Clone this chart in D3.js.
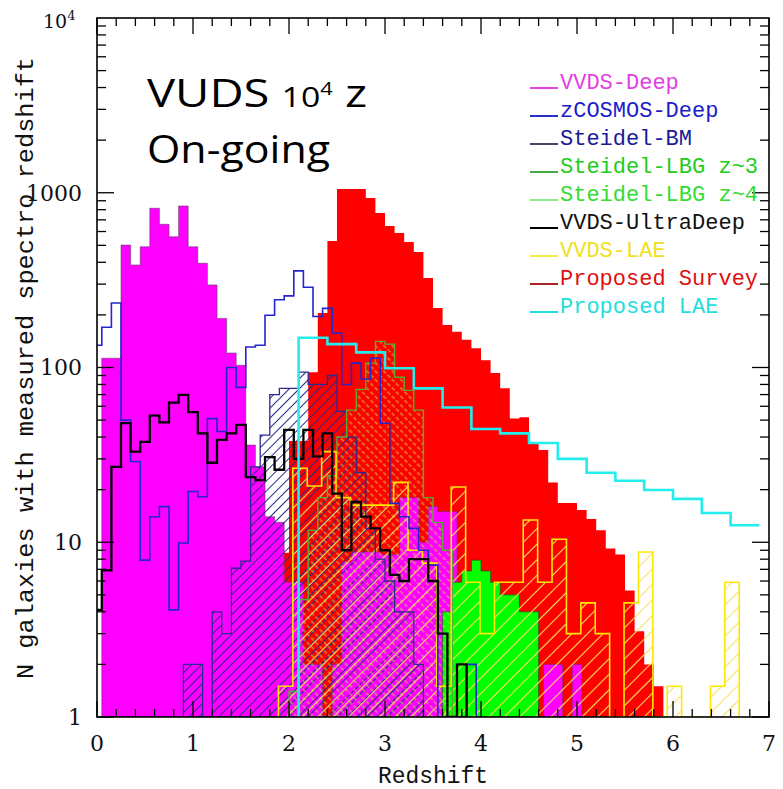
<!DOCTYPE html>
<html><head><meta charset="utf-8">
<script src="https://cdn.jsdelivr.net/npm/d3@7"></script>
<style>body{margin:0;background:#fff;}svg{display:block}</style>
</head><body><svg id="c" width="783" height="789"></svg>
<script>
// ---------- DATA (counts per redshift bin) ----------
const proposedSurveyStart = 1.9, proposedSurveyBin = 0.1;
const proposedSurvey = [8.7,38,38,94,205,530,1050,1050,1050,933,766,645,589,523,458,325,219,175,160,144,129,110,93,76,51,52,36.5,33.7,22,16.8,16.8,15.3,13.6,11.7,9.2,8.5,5.3,3.1,2.0,1.5];

const vvdsDeepStart = 0.05, vvdsDeepBin = 0.1;
const vvdsDeep = [113,113,502,386,491,815,660,560,840,491,395,297,191,121,103,36,27,14,13,5.9,5.9,2,2,0,2,7.7,8.8,8.8,8.8,8.5,8.5,18,18,10,16,15,15,0,0,0,0,0,0,0,0,0,2,2,0,2];

const lbgZ4Start = 3.6, lbgZ4Bin = 0.1;
const lbgZ4 = [4,5.9,6.85,7.9,6.85,5.9,5.0,5.0,4.0,4.0];

const steidelBMStart = 0.9, steidelBMBin = 0.1;
const steidelBM = [2,2,0,4,3,7.1,7.8,27,41,70,76,76,94,80,80,90,56,40,25,12,8,6,4,4,2];

const lbgZ3Start = 2.0, lbgZ3Bin = 0.1;
const lbgZ3 = [1.4,4.7,11.7,18,24,40,57,75,106,141,136,88,74,57,18,13,9];

const vvdsLAEStart = 1.89, vvdsLAEBin = 0.15;
const vvdsLAE = [1.5,26.5,21,33,18,16.3,16.3,16.3,22,9,7.6,1.5,20.7,5.9,3.0,5.9,5.9,13.4,5.9,10.4,3,4.5,3,0,4.5,8.8,0,1.5,0,0,1.5,5.9];

const zcosmosStart = -0.05, zcosmosBin = 0.1;
const zcosmos = [134,170,234,50,29,7.9,14,16,4.1,9.9,19.5,18.2,51,43,100,77,131,134,199,244,257,357,288,196,218,157,80,106,86,113,48,16.7,14,12,9,7.4,0,0,0,2];

const ultraDeepStart = -0.05, ultraDeepBin = 0.1;
const ultraDeep = [4.1,6.9,27,48,33,37.5,53,48.5,62.9,69.8,55.5,42,28.5,38.5,42,47,23.6,22.7,30.7,26,44,30,44,31,42,19,9,17,14,12,9,6.5,6,8,8,6,3,0,2];

const proposedLAEStart = 2.1, proposedLAEBin = 0.3;
const proposedLAE = [148,136,122,99,76,59,44.5,42,37,30,25,22.5,19.9,17.7,14.7,12.5];

const legendNames = ["VVDS-Deep","zCOSMOS-Deep","Steidel-BM","Steidel-LBG z~3","Steidel-LBG z~4","VVDS-UltraDeep","VVDS-LAE","Proposed Survey","Proposed LAE"];
const legendText = ["#e23fe2","#1c1ccc","#1a1a99","#22cc22","#33dd33","#111111","#f0e020","#dd1111","#22dddd"];
const legendLine = ["#dd44dd","#2233cc","#444466","#44aa44","#88ee88","#000000","#eeee44","#aa2222","#22dddd"];

const xTickLabels = [0,1,2,3,4,5,6,7];
const yTickLabels = [1,10,100,1000];

// ---------- SCALES ----------
const svg = d3.select("#c");
const x = d3.scaleLinear().domain([0,7]).range([97,769]);
const y = d3.scaleLog().domain([1,1e4]).range([717,18]).clamp(true);

const defs = svg.append("defs");
defs.append("clipPath").attr("id","plot").append("rect")
  .attr("x",x(0)).attr("y",y(1e4)).attr("width",x(7)-x(0)).attr("height",y(1)-y(1e4));

function hatch(id,color,spacing,angle,sw,dash){
  const p = defs.append("pattern").attr("id",id).attr("patternUnits","userSpaceOnUse")
    .attr("width",spacing).attr("height",spacing).attr("patternTransform",`rotate(${angle})`);
  const l = p.append("line").attr("x1",spacing/2).attr("x2",spacing/2).attr("y1",0).attr("y2",spacing)
    .attr("stroke",color).attr("stroke-width",sw);
  if(dash) l.attr("stroke-dasharray",dash);
}
hatch("hBM","#2a2a8a",7,45,1);
hatch("hZ3","#c8e040",6,-45,0.9,"3,2");
hatch("hLAE","#f5e060",11,45,1.1);

function stepPath(start,w,vals,close){
  const p = d3.path();
  const yb = y(1);
  p.moveTo(x(start),yb);
  vals.forEach((v,i)=>{
    const yy = y(Math.max(v,1));
    p.lineTo(x(start+i*w),yy);
    p.lineTo(x(start+(i+1)*w),yy);
  });
  p.lineTo(x(start+vals.length*w),yb);
  if(close) p.closePath();
  return p.toString();
}

const g = svg.append("g").attr("clip-path","url(#plot)");

// fills
g.append("path").attr("d",stepPath(proposedSurveyStart,proposedSurveyBin,proposedSurvey,true)).attr("fill","#ff0000");
g.append("path").attr("d",stepPath(vvdsDeepStart,vvdsDeepBin,vvdsDeep,true)).attr("fill","#ff00ff")
  .attr("stroke","#5a3a5a").attr("stroke-width",1).attr("stroke-opacity",0.55);
g.append("path").attr("d",stepPath(lbgZ4Start,lbgZ4Bin,lbgZ4,true)).attr("fill","#00ff00")
  .attr("stroke","#224422").attr("stroke-width",1).attr("stroke-opacity",0.6);

// hatched
g.append("path").attr("d",stepPath(steidelBMStart,steidelBMBin,steidelBM,true)).attr("fill","url(#hBM)");
g.append("path").attr("d",stepPath(lbgZ3Start,lbgZ3Bin,lbgZ3,true)).attr("fill","url(#hZ3)");
g.append("path").attr("d",stepPath(vvdsLAEStart,vvdsLAEBin,vvdsLAE,true)).attr("fill","url(#hLAE)");

// outlines
function outline(start,w,vals,color,width){
  g.append("path").attr("d",stepPath(start,w,vals,false)).attr("fill","none")
    .attr("stroke",color).attr("stroke-width",width).attr("stroke-linejoin","miter");
}
outline(steidelBMStart,steidelBMBin,steidelBM,"#2a2a90",1.3);
outline(lbgZ3Start,lbgZ3Bin,lbgZ3,"#55b030",1.4);
outline(vvdsLAEStart,vvdsLAEBin,vvdsLAE,"#ffe600",1.6);
outline(zcosmosStart,zcosmosBin,zcosmos,"#2525cc",1.6);
outline(ultraDeepStart,ultraDeepBin,ultraDeep,"#000000",2.3);
// proposed LAE: rises from the axis, no drop at end
(function(){
  const p = d3.path();
  p.moveTo(x(proposedLAEStart),y(1));
  proposedLAE.forEach((v,i)=>{
    p.lineTo(x(proposedLAEStart+i*proposedLAEBin),y(v));
    p.lineTo(x(proposedLAEStart+(i+1)*proposedLAEBin),y(v));
  });
  g.append("path").attr("d",p.toString()).attr("fill","none").attr("stroke","#22eeee").attr("stroke-width",2.6);
})();

// ---------- AXES ----------
const ax = svg.append("g").attr("stroke","#000");
ax.append("rect").attr("x",x(0)).attr("y",y(1e4)).attr("width",x(7)-x(0)).attr("height",y(1)-y(1e4))
  .attr("fill","none").attr("stroke-width",1.6);
d3.range(0,7.001,0.2).forEach(v=>{
  const major = Math.abs(v-Math.round(v))<1e-6;
  const len = major?16:8;
  ax.append("line").attr("x1",x(v)).attr("x2",x(v)).attr("y1",y(1)).attr("y2",y(1)-len).attr("stroke-width",1.3);
  ax.append("line").attr("x1",x(v)).attr("x2",x(v)).attr("y1",y(1e4)).attr("y2",y(1e4)+len).attr("stroke-width",1.3);
});
[1,10,100,1000].forEach(d=>{
  for(let k=1;k<=9;k++){
    const v=d*k; const len = k===1?17:9;
    ax.append("line").attr("x1",x(0)).attr("x2",x(0)+len).attr("y1",y(v)).attr("y2",y(v)).attr("stroke-width",1.3);
    ax.append("line").attr("x1",x(7)).attr("x2",x(7)-len).attr("y1",y(v)).attr("y2",y(v)).attr("stroke-width",1.3);
  }
});

const serif = "DejaVu Serif";
svg.append("g").selectAll("text").data(xTickLabels).join("text")
  .attr("x",d=>x(d)).attr("y",751).attr("text-anchor","middle")
  .attr("font-family",serif).attr("font-size",22).attr("fill","#111").text(d=>d);
svg.append("g").selectAll("text").data(yTickLabels).join("text")
  .attr("x",82).attr("y",d=>y(d)).attr("dy","0.36em").attr("text-anchor","end")
  .attr("font-family",serif).attr("font-size",22).attr("fill","#111").text(d=>d);
const t4 = svg.append("text").attr("x",43).attr("y",28).attr("font-family",serif).attr("font-size",19).attr("fill","#111");
t4.append("tspan").text("10");
t4.append("tspan").attr("font-size",13).attr("dy",-8).text("4");

svg.append("text").attr("transform","translate(33,368) rotate(-90)").attr("text-anchor","middle")
  .attr("font-family","Liberation Mono").attr("font-size",24).attr("fill","#111")
  .attr("textLength",622).attr("lengthAdjust","spacingAndGlyphs")
  .text("N galaxies with measured spectro redshift");
svg.append("text").attr("x",433).attr("y",783).attr("text-anchor","middle")
  .attr("font-family","Liberation Mono").attr("font-size",23).attr("fill","#111")
  .attr("textLength",110).attr("lengthAdjust","spacingAndGlyphs").text("Redshift");

// ---------- LEGEND ----------
const lg = svg.append("g");
legendNames.forEach((n,i)=>{
  const by = 89 + i*28;
  lg.append("line").attr("x1",530).attr("x2",558).attr("y1",by-1).attr("y2",by-1)
    .attr("stroke",legendLine[i]).attr("stroke-width",2);
  lg.append("text").attr("x",560).attr("y",by).attr("font-family","Liberation Mono")
    .attr("font-size",22).attr("fill",legendText[i]).text(n);
});

// ---------- ANNOTATION ----------
const ann = svg.append("g").attr("font-family","Open Sans").attr("fill","#000");
const a1 = ann.append("text").attr("x",147).attr("y",107).attr("font-size",39)
  .attr("textLength",220).attr("lengthAdjust","spacingAndGlyphs");
a1.append("tspan").text("VUDS ");
a1.append("tspan").attr("font-size",28).text("10");
a1.append("tspan").attr("font-size",18).attr("dy",-12).text("4");
a1.append("tspan").attr("dy",12).text(" z");
ann.append("text").attr("x",147).attr("y",163).attr("font-size",39)
  .attr("textLength",183).attr("lengthAdjust","spacingAndGlyphs").text("On-going");
</script></body></html>
